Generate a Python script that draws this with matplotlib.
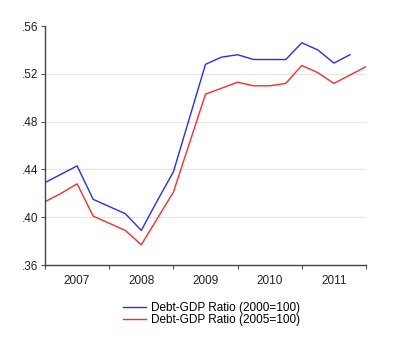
import numpy as np
import matplotlib.pyplot as plt

# quarterly observations 2007Q1 .. 2012Q1
quarters = ['2007Q1', '2007Q2', '2007Q3', '2007Q4', '2008Q1', '2008Q2', '2008Q3',
            '2008Q4', '2009Q1', '2009Q2', '2009Q3', '2009Q4', '2010Q1', '2010Q2',
            '2010Q3', '2010Q4', '2011Q1', '2011Q2', '2011Q3', '2011Q4', '2012Q1']
years = ['2007', '2008', '2009', '2010', '2011']

ratio_2000 = [0.429, 0.436, 0.443, 0.415, 0.409, 0.403, 0.389, 0.414, 0.438, 0.483,
              0.528, 0.534, 0.536, 0.532, 0.532, 0.532, 0.546, 0.540, 0.529, 0.536,
              np.nan]
ratio_2005 = [0.413, 0.420, 0.428, 0.401, 0.395, 0.389, 0.377, 0.399, 0.421, 0.462,
              0.503, 0.508, 0.513, 0.510, 0.510, 0.512, 0.527, 0.521, 0.512, 0.519,
              0.526]

plt.rcParams['font.family'] = ['Liberation Sans', 'DejaVu Sans']

fig = plt.figure(figsize=(4.0, 3.52), dpi=100)
ax = fig.add_axes([0.1125, 0.247, 0.8025, 0.679])

x = np.arange(len(quarters))
ax.plot(x, ratio_2000, color='#2a2aff', lw=1.0, label='Debt-GDP Ratio (2000=100)')
ax.plot(x, ratio_2005, color='#ff2a2a', lw=1.0, label='Debt-GDP Ratio (2005=100)')

ax.set_xlim(0, 20)
ax.set_ylim(0.36, 0.56)

yt = [0.36, 0.40, 0.44, 0.48, 0.52, 0.56]
ax.set_yticks(yt)
ax.set_yticklabels(['.36', '.40', '.44', '.48', '.52', '.56'])
for v in yt[1:-1]:
    ax.axhline(v, color='#e6e6e6', lw=0.9, zorder=0)

ax.set_xticks([0, 4, 8, 12, 16, 20])
ax.set_xticklabels([])
ax.set_xticks([2, 6, 10, 14, 18], minor=True)
ax.set_xticklabels(years, minor=True)
ax.tick_params(axis='x', which='minor', length=0, pad=7, labelsize=8.5, colors='#222222')
ax.tick_params(axis='x', which='major', length=3, width=0.8, color='#555555')
ax.tick_params(axis='y', length=3, width=0.8, color='#555555', labelsize=8.5,
               labelcolor='#222222', pad=2)

for s in ['top', 'right']:
    ax.spines[s].set_visible(False)
for s in ['left', 'bottom']:
    ax.spines[s].set_color('#444444')
    ax.spines[s].set_linewidth(1.0)

fig.legend(loc='center', bbox_to_anchor=(0.529, 0.108), frameon=False, fontsize=8.5,
           handlelength=1.9, handletextpad=0.4, labelspacing=0.0)

fig.savefig('out.png', dpi=100)
